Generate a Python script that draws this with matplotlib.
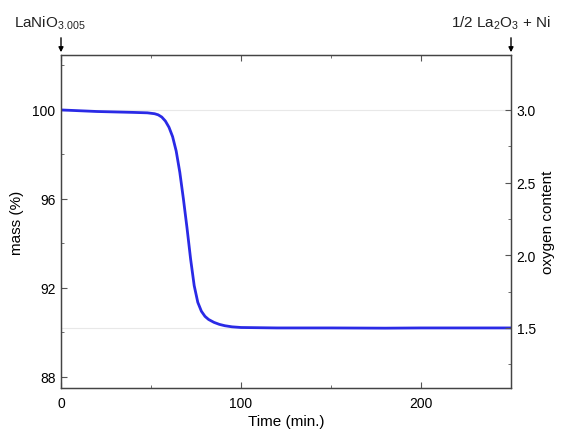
import matplotlib.pyplot as plt

plt.rcParams['font.family'] = ['Liberation Sans', 'DejaVu Sans']

# TGA curve
time_min = [0, 20, 40, 48, 52, 54, 56, 58, 60, 62, 64, 66, 68, 70, 72, 74, 76, 78,
            80, 82, 85, 88, 91, 95, 100, 120, 150, 180, 200, 230, 250]
mass_pct = [100.0, 99.93, 99.89, 99.87, 99.83, 99.78, 99.68, 99.5, 99.22, 98.8, 98.15,
            97.2, 96.0, 94.7, 93.3, 92.1, 91.35, 90.95, 90.72, 90.58, 90.45, 90.36,
            90.3, 90.25, 90.22, 90.2, 90.2, 90.19, 90.2, 90.2, 90.2]

mass_ticks = [88, 92, 96, 100]
oxy_ticks = [1.5, 2.0, 2.5, 3.0]

fig = plt.figure(figsize=(5.63, 4.31), dpi=100)
ax = fig.add_axes([61 / 563, 1 - 389 / 431, 450 / 563, 333 / 431])

ax.plot(time_min, mass_pct, color='#2a2ae6', lw=2.0, solid_joinstyle='round')
ax.axhline(100.0, color='#e8e8e8', lw=0.8, zorder=0)
ax.axhline(90.2, color='#e8e8e8', lw=0.8, zorder=0)

ax.set_xlim(0, 250)
ax.set_ylim(87.5, 102.47)
ax.set_xticks([0, 100, 200])
ax.set_xticks([50, 150, 250], minor=True)
ax.set_yticks(mass_ticks)
ax.set_yticks([90, 94, 98, 102], minor=True)
ax.tick_params(direction='in', length=4, labelsize=10, color='#555555', top=True, pad=6)
ax.tick_params(which='minor', direction='in', length=2, color='#555555', top=True)
ax.tick_params(axis='y', pad=4)
ax.set_xlabel('Time (min.)', fontsize=11, labelpad=3)
ax.set_ylabel('mass (%)', fontsize=11, labelpad=6)

ax2 = ax.twinx()
# oxygen content: 100 % <-> 3.0, 90.2 % <-> 1.5
k = 1.5 / (100.0 - 90.2)
ax2.set_ylim(3.0 - (100.0 - 87.5) * k, 3.0 + (102.47 - 100.0) * k)
ax2.set_yticks(oxy_ticks)
ax2.set_yticks([1.25, 1.75, 2.25, 2.75], minor=True)
ax2.tick_params(direction='in', length=4, labelsize=10, color='#555555', pad=4)
ax2.tick_params(which='minor', direction='in', length=2, color='#555555')
ax2.set_ylabel('oxygen content', fontsize=11)

for a in (ax, ax2):
    for s in a.spines.values():
        s.set_color('#444444')
        s.set_linewidth(0.9)

for xa in (0, 250):
    ax.annotate('', xy=(xa, 1.0), xycoords=('data', 'axes fraction'),
                xytext=(xa, 1.06), textcoords=('data', 'axes fraction'),
                arrowprops=dict(arrowstyle='-|>', color='black', lw=1, mutation_scale=7))

fig.text(14 / 563, 1 - 27 / 431, r'LaNiO$_{\mathregular{3.005}}$', fontsize=11, color='#222222',
         va='baseline')
fig.text(551 / 563, 1 - 27 / 431, r'1/2 La$_{\mathregular{2}}$O$_{\mathregular{3}}$ + Ni',
         fontsize=11, color='#222222', ha='right', va='baseline')

fig.savefig('out.png', dpi=100)
